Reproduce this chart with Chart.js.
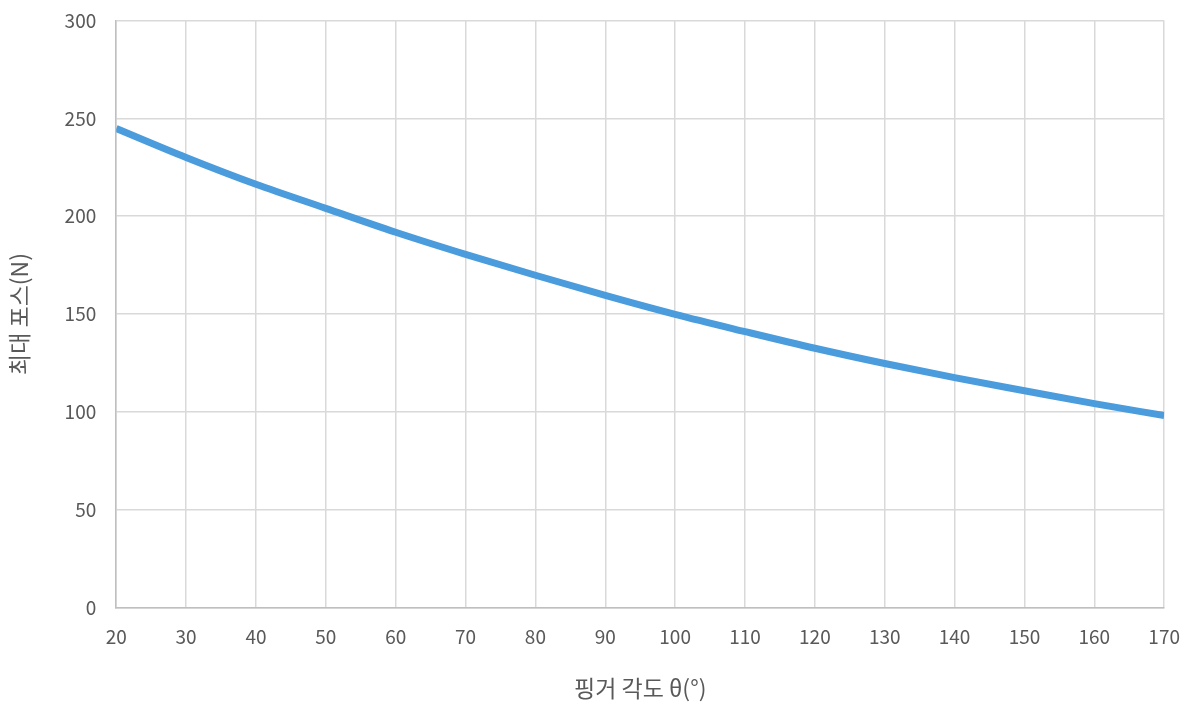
<!DOCTYPE html>
<html>
<head>
<meta charset="utf-8">
<script src="https://cdn.jsdelivr.net/npm/chart.js@4"></script>
<style>
  html, body { margin: 0; padding: 0; background: #fff; }
  canvas { display: block; }
</style>
</head>
<body>
<canvas id="chart" width="1195" height="706"></canvas>
<script>
const angles = [20, 30, 40, 50, 60, 70, 80, 90, 100, 110, 120, 130, 140, 150, 160, 170];
const forces = [244.8, 230.0, 216.3, 204.0, 191.8, 180.5, 169.8, 159.5, 149.8, 141.0, 132.5, 124.7, 117.5, 110.8, 104.2, 98.1];
const xTitle = '핑거 각도 θ(°)';
const yTitle = '최대 포스(N)';

const ctx = document.getElementById('chart');
const pts = angles.map((a, i) => ({ x: a, y: forces[i] }));
const font = '"Noto Sans CJK KR", "Noto Sans", sans-serif';

new Chart(ctx, {
  type: 'line',
  data: {
    datasets: [{
      data: pts,
      borderColor: '#4a9cdc',
      borderWidth: 7,
      pointRadius: 0,
      tension: 0.4,
      cubicInterpolationMode: 'monotone'
    }]
  },
  options: {
    responsive: false,
    animation: false,
    layout: { padding: { top: 1, right: 24, left: 1, bottom: 0 } },
    plugins: { legend: { display: false }, tooltip: { enabled: false } },
    scales: {
      x: {
        type: 'linear',
        min: 20,
        max: 170,
        ticks: { stepSize: 10, color: '#595959', font: { family: font, size: 19, lineHeight: 1.52 }, padding: 15, maxRotation: 0 },
        grid: { color: '#d9d9d9', lineWidth: 1.5, drawTicks: false },
        border: { color: '#bfbfbf', width: 1.5 },
        title: { display: true, text: xTitle, color: '#595959', font: { family: font, size: 23 }, padding: { top: 8 } }
      },
      y: {
        min: 0,
        max: 300,
        // small lineHeight keeps the chart area top close to the canvas edge
        ticks: { stepSize: 50, color: '#595959', font: { family: font, size: 19, lineHeight: 0.05 }, padding: 20 },
        grid: { color: '#d9d9d9', lineWidth: 1.5, drawTicks: false },
        border: { color: '#bfbfbf', width: 1.5 },
        title: { display: true, text: yTitle, color: '#595959', font: { family: font, size: 23 }, padding: { bottom: 12 } }
      }
    }
  }
});
</script>
</body>
</html>
